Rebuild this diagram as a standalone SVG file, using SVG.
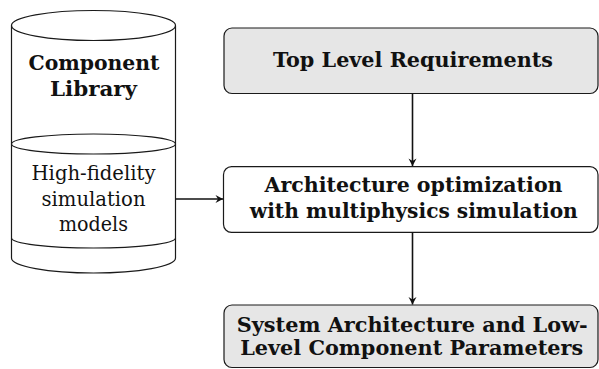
<svg xmlns="http://www.w3.org/2000/svg" width="599" height="369" viewBox="0 0 599 369">
<style>
.ln{fill:none;stroke:#1a1a1a;stroke-width:1.2}
.box{stroke:#1a1a1a;stroke-width:1.2}
.gray{fill:#e6e6e6}
.white{fill:#ffffff}
.b{font-family:"DejaVu Serif","Liberation Serif",serif;font-weight:bold;font-size:20px;fill:#111;text-anchor:middle}
.r{font-family:"DejaVu Serif","Liberation Serif",serif;font-size:20px;fill:#111;text-anchor:middle}
.arr{fill:none;stroke:#111;stroke-width:1.6}
</style>
<defs>
<marker id="ah" markerWidth="12" markerHeight="12" refX="8" refY="6" orient="auto" markerUnits="userSpaceOnUse">
<path d="M8,6 L0.5,2 L3,6 L0.5,10 Z" fill="#111"/>
</marker>
</defs>
<rect width="599" height="369" fill="#ffffff"/>
<g id="component-library">
<path class="ln" d="M11.5,25.5 L11.5,258 A82,15 0 0 0 175.5,258 L175.5,25.5"/>
<ellipse class="ln" cx="93.5" cy="25.5" rx="82" ry="15"/>
<ellipse class="ln" cx="93.5" cy="144" rx="82" ry="10"/>
<path class="ln" d="M11.5,238 A82,10 0 0 0 175.5,238"/>
<text class="b" x="94" y="70" textLength="131" lengthAdjust="spacingAndGlyphs">Component</text>
<text class="b" x="93.5" y="96" textLength="87" lengthAdjust="spacingAndGlyphs">Library</text>
<text class="r" x="93.5" y="180" textLength="124" lengthAdjust="spacingAndGlyphs">High-fidelity</text>
<text class="r" x="93.5" y="205.5" textLength="104" lengthAdjust="spacingAndGlyphs">simulation</text>
<text class="r" x="93.5" y="231" textLength="69" lengthAdjust="spacingAndGlyphs">models</text>
</g>
<g id="top-level-requirements">
<rect class="box gray" x="224" y="28" width="374" height="65.5" rx="8"/>
<text class="b" x="413" y="66.5" textLength="280" lengthAdjust="spacingAndGlyphs">Top Level Requirements</text>
</g>
<g id="architecture-optimization">
<rect class="box white" x="223.5" y="166.7" width="374.5" height="65.6" rx="8"/>
<text class="b" x="413.5" y="191.7" textLength="298" lengthAdjust="spacingAndGlyphs">Architecture optimization</text>
<text class="b" x="413.8" y="218.3" textLength="328" lengthAdjust="spacingAndGlyphs">with multiphysics simulation</text>
</g>
<g id="system-architecture">
<rect class="box gray" x="224" y="305" width="374" height="62.5" rx="8"/>
<text class="b" x="412.2" y="331.7" textLength="351" lengthAdjust="spacingAndGlyphs">System Architecture and Low-</text>
<text class="b" x="411.7" y="355" textLength="343" lengthAdjust="spacingAndGlyphs">Level Component Parameters</text>
</g>
<g id="connectors">
<line class="arr" x1="412.5" y1="93.5" x2="412.5" y2="166" marker-end="url(#ah)"/>
<line class="arr" x1="412.5" y1="232.3" x2="412.5" y2="304.5" marker-end="url(#ah)"/>
<line class="arr" x1="175.5" y1="199" x2="223" y2="199" marker-end="url(#ah)"/>
</g>
</svg>
